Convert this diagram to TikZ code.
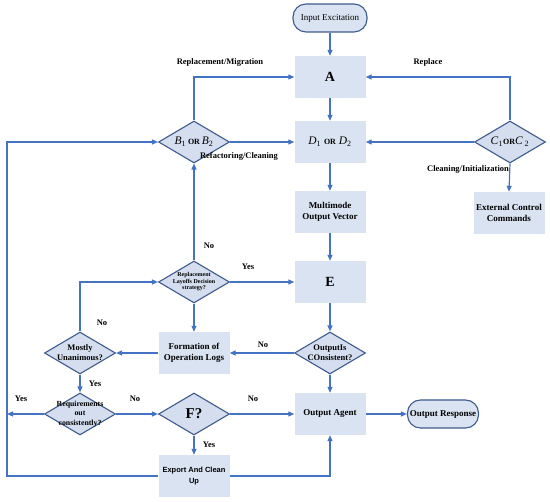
\documentclass[tikz,border=0pt]{standalone}
\usepackage{fontspec}
\setmainfont{Liberation Serif}
\newfontfamily\exportfont{Liberation Sans}
\usetikzlibrary{shapes.geometric, arrows.meta, positioning, calc}
\definecolor{boxfill}{HTML}{DAE3F1}
\definecolor{dmdfill}{HTML}{D5DEEE}
\definecolor{dmdline}{HTML}{3E5A8E}
\definecolor{flowline}{HTML}{4472C4}
\def \boxwidth {71pt}
\def \boxheight {42pt}
\newcommand{\sym}[2]{\textit{#1}\textsubscript{\normalfont #2}}
\newcommand{\orword}{{\fontsize{8}{10}\selectfont\bfseries OR}}

\tikzset{
  procbox/.style = {fill = boxfill, minimum width = \boxwidth, minimum height = \boxheight, inner sep = 1pt, align = center, font = \fontsize{9}{11}\selectfont\bfseries},
  bigbox/.style = {procbox, font = \fontsize{14}{16}\selectfont\bfseries},
  decision/.style = {diamond, draw = dmdline, line width = 1.1pt, fill = dmdfill, minimum width = \boxwidth, minimum height = \boxheight, inner sep = 0pt, aspect = 1.7},
  dtext/.style = {align = center, inner sep = 0pt, font = \fontsize{8.5}{10}\selectfont\bfseries},
  terminal/.style = {draw = dmdline, line width = 1.1pt, fill = boxfill, rounded corners = 13pt, minimum width = \boxwidth, minimum height = 28pt, inner sep = 1pt, font = \fontsize{9}{11}\selectfont},
  flow/.style = {draw = flowline, line width = 1.2pt, -{Triangle[length = 6pt, width = 5pt]}},
  lab/.style = {inner sep = 0pt, font = \fontsize{8.5}{10}\selectfont\bfseries}
}

\begin{document}
\begin{tikzpicture}[x = 1pt, y = -1pt]
\useasboundingbox (0,0) rectangle (550,502);

% main column
\node (input) [terminal, minimum width = 74pt] at (330,18) {Input Excitation};
\node (A) [bigbox] at (330,77) {A};
\node (D) [procbox, font = \fontsize{11.5}{13}\selectfont] at (330,142) {\sym{D}{1} \orword{} \sym{D}{2}};
\node (mov) [procbox] at (330,212) {Multimode\\Output Vector};
\node (E) [bigbox] at (330,282) {E};
\node (cons) [decision, label = {[dtext]center:{OutputIs\\COnsistent?}}] at (330,353) {};
\node (agent) [procbox] at (330,414) {Output Agent};
\node (resp) [terminal] at (443,414) {\bfseries Output Response};

% side branches
\node (B) [decision, label = {[dtext, font = \fontsize{11.5}{13}\selectfont]center:{\sym{B}{1}\,\orword\,\sym{B}{2}}}] at (194,142) {};
\node (C) [decision, label = {[dtext, font = \fontsize{11.5}{13}\selectfont]center:{\sym{C}{1}\orword\textit{C}\,\textsubscript{2}}}] at (510,142) {};
\node (ext) [procbox] at (509,213) {External Control\\Commands};
\node (rep) [decision, label = {[dtext, font = \fontsize{6}{6.5}\selectfont\bfseries]center:{Replacement\\Layoffs Decision\\strategy?}}] at (194,282) {};
\node (logs) [procbox] at (194,353) {Formation of\\Operation Logs};
\node (unan) [decision, label = {[dtext]center:{Mostly\\Unanimous?}}] at (80,353) {};
\node (req) [decision, label = {[dtext, font = \fontsize{7.8}{9.5}\selectfont\bfseries]center:{Requirements\\out\\consistently?}}] at (80,414) {};
\node (F) [decision, label = {[dtext, font = \fontsize{15}{17}\selectfont\bfseries]center:{F?}}] at (194,414) {};
\node (export) [procbox, font = \fontsize{7.5}{11}\exportfont\bfseries] at (194,476) {Export And Clean\\Up};

\coordinate (loopdown) at (7,476);
\coordinate (loopup) at (7,142);
\coordinate (reqend) at (7,414);

\draw[flow] (input) -- (A);
\draw[flow] (A) -- (D);
\draw[flow] (B.north) |- (A.west);
\draw[flow] (C.north) |- (A.east);
\draw[flow] (B.east) -- (D.west);
\draw[flow] (C.west) -- (D.east);
\draw[flow] (C.south) -- (ext.north);
\draw[flow] (D) -- (mov);
\draw[flow] (mov) -- (E);
\draw[flow] (E) -- (cons.north);
\draw[flow] (cons.south) -- (agent);
\draw[flow] (agent) -- (resp);
\draw[flow] (cons.west) -- (logs.east);
\draw[flow] (logs.west) -- (unan.east);
\draw[flow] (rep.north) -- (B.south);
\draw[flow] (rep.east) -- (E.west);
\draw[flow] (rep.south) -- (logs.north);
\draw[flow] (unan.north) |- (rep.west);
\draw[flow] (unan.south) -- (req.north);
\draw[flow] (req.east) -- (F.west);
\draw[flow] (F.east) -- (agent.west);
\draw[flow] (F.south) -- (export.north);
\draw[flow] (export.east) -| (agent.south);
\draw[flow] (export.west) -- (loopdown) -- (loopup) -- (B.west);
\draw[flow] (req.west) -- (reqend);

% connector labels
\node (lrepmig) [lab] at (220,62) {Replacement/Migration};
\node (lrep) [lab] at (428,62) {Replace};
\node (lrefac) [lab] at (239,156) {Refactoring/Cleaning};
\node (lclean) [lab] at (468,169) {Cleaning/Initialization};
\node (lno1) [lab] at (209,246) {No};
\node (lyes1) [lab] at (248,267) {Yes};
\node (lno2) [lab] at (102,323) {No};
\node (lno3) [lab] at (263,345) {No};
\node (lyes2) [lab] at (95,384) {Yes};
\node (lyes3) [lab] at (21,399) {Yes};
\node (lno4) [lab] at (135,399) {No};
\node (lno5) [lab] at (253,399) {No};
\node (lyes4) [lab] at (209,445) {Yes};

\end{tikzpicture}
\end{document}
